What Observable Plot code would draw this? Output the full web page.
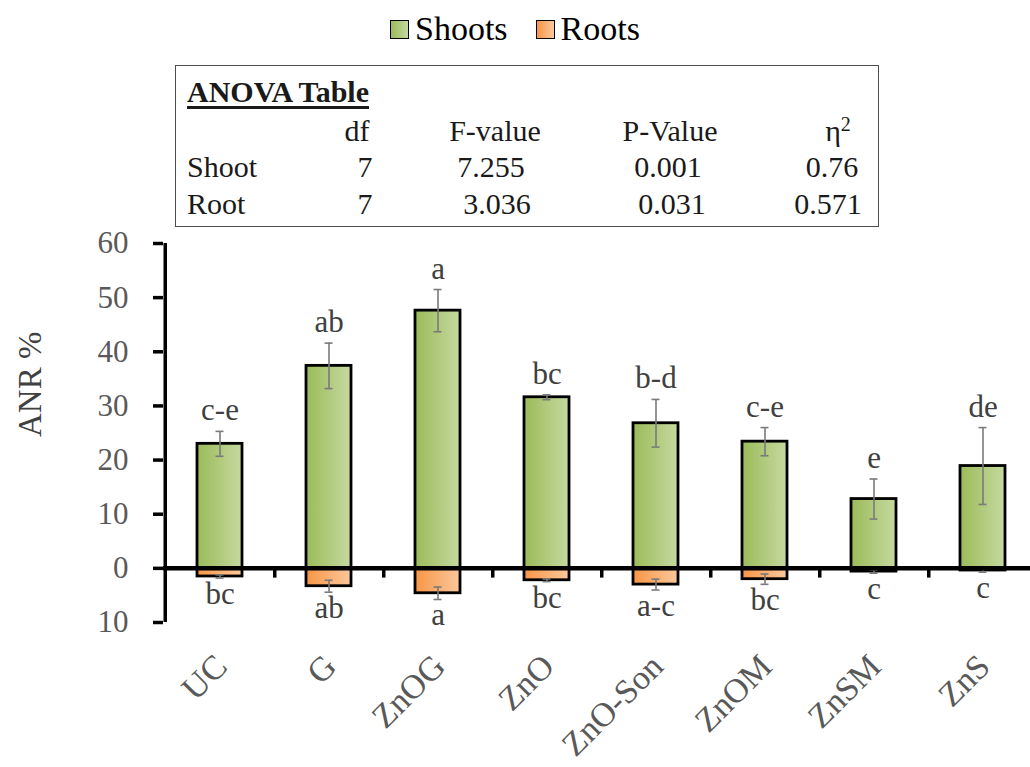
<!DOCTYPE html>
<html>
<head>
<meta charset="utf-8">
<script src="https://cdn.jsdelivr.net/npm/d3@7"></script>
<script src="https://cdn.jsdelivr.net/npm/@observablehq/plot@0.6"></script>
<style>
  html, body { margin: 0; padding: 0; background: #fff; }
  body { width: 1030px; height: 767px; overflow: hidden; font-family: "Liberation Serif", "Tinos", "Times New Roman", "DejaVu Serif", serif; }
  #wrap { position: relative; width: 1030px; height: 767px; }
  #legend { position: absolute; top: 12px; left: 0; width: 1030px; display: flex; justify-content: center; align-items: center; font-size: 34px; line-height: 34px; color: #000; }
  #legend .item { display: flex; align-items: center; margin: 0 14px; }
  #legend .sw { width: 17px; height: 17px; border: 1.6px solid #000; margin-right: 6px; }
  #anova { position: absolute; left: 175px; top: 65px; width: 704px; height: 162px; border: 1.2px solid #4d4d4d; box-sizing: border-box; font-size: 30px; color: #1a1a1a; }
  #anova .c { position: absolute; white-space: nowrap; line-height: 30px; transform: translateX(-50%); }
  #anova .l { position: absolute; white-space: nowrap; line-height: 30px; }
  #anova .title { font-weight: bold; text-decoration: underline; text-decoration-thickness: 2.5px; text-underline-offset: 4px; }
  #chart { position: absolute; left: 0; top: 232px; }
</style>
</head>
<body>
<div id="wrap">
  <div id="legend"></div>
  <div id="anova"></div>
  <div id="chart"></div>
</div>
<script>
// Treatments and measured ANR % (means with standard errors)
const treatments = ["UC", "G", "ZnOG", "ZnO", "ZnO-Son", "ZnOM", "ZnSM", "ZnS"];
const shoots   = [23.0, 37.4, 47.6, 31.6, 26.8, 23.4, 12.8, 18.9];
const shootSE  = [2.3, 4.2, 3.9, 0.45, 4.4, 2.6, 3.7, 7.1];
const roots    = [-1.5, -3.3, -4.6, -2.2, -3.0, -2.0, -0.6, -0.4];
const rootSE   = [0.3, 1.1, 1.15, 0.25, 1.0, 0.95, 0.3, 0.3];
const shootLetters = ["c-e", "ab", "a", "bc", "b-d", "c-e", "e", "de"];
const rootLetters  = ["bc", "ab", "a", "bc", "a-c", "bc", "c", "c"];
const yTicks = [-10, 0, 10, 20, 30, 40, 50, 60];
const seriesNames = ["Shoots", "Roots"];

// ANOVA summary
const anovaTitle = "ANOVA Table";
const anovaHeaders = ["df", "F-value", "P-Value", "η"];
const anovaRowNames = ["Shoot", "Root"];
const anovaDf = ["7", "7"];
const anovaF = ["7.255", "3.036"];
const anovaP = ["0.001", "0.031"];
const anovaEta = ["0.76", "0.571"];

const green = ["#9bbb59", "#c6d9a0"];
const orange = ["#f79646", "#fbc89c"];
const serif = "'Liberation Serif', Tinos, 'Times New Roman', 'DejaVu Serif', serif";

// Legend
const legend = document.getElementById("legend");
seriesNames.forEach((name, i) => {
  const c = i === 0 ? green : orange;
  const item = document.createElement("div");
  item.className = "item";
  const sw = document.createElement("div");
  sw.className = "sw";
  sw.style.background = `linear-gradient(to right, ${c[0]}, ${c[1]})`;
  const label = document.createElement("span");
  label.textContent = name;
  item.append(sw, label);
  legend.append(item);
});

// ANOVA table; column centres are page x positions, converted to box coordinates
const anova = document.getElementById("anova");
function cell(text, x, baseline, cls = "c") {
  const d = document.createElement("div");
  d.className = cls;
  d.textContent = text;
  d.style.left = (x - 176) + "px";
  d.style.top = (baseline - 24) + "px";
  anova.append(d);
  return d;
}
const t = cell(anovaTitle, 187, 35, "l");
t.classList.add("title");
const headX = [357, 495, 670, 838];
anovaHeaders.forEach((h, j) => {
  const d = cell(h, headX[j], 74);
  if (j === 3) {
    const s = document.createElement("sup");
    s.textContent = "2";
    s.style.fontSize = "20px";
    s.style.verticalAlign = "10px";
    s.style.lineHeight = "0";
    d.append(s);
  }
});
anovaRowNames.forEach((r, i) => {
  const b = [110, 147][i];
  cell(r, 187, b, "l");
  cell(anovaDf[i], 365, b);
  cell(anovaF[i], [491, 497][i], b);
  cell(anovaP[i], [668, 672][i], b);
  cell(anovaEta[i], [832, 828][i], b);
});

// Chart
const rows = treatments.map((t, i) => ({
  t, shoot: shoots[i], se: shootSE[i], root: roots[i], rse: rootSE[i],
  sl: shootLetters[i], rl: rootLetters[i]
}));
const step = (1039 - 163) / treatments.length;
const err = { stroke: "#7a7a7a", strokeWidth: 1.6 };
const cap = { ...err, insetLeft: 18.5, insetRight: 18.5 };

const svg = Plot.plot({
  width: 1030,
  height: 535,
  marginLeft: 163,
  marginRight: 0,
  marginTop: 11,
  marginBottom: 145,
  style: { fontFamily: serif, background: "transparent", overflow: "visible" },
  x: { domain: treatments, range: [163, 1039], paddingInner: 0.59, paddingOuter: 0.295, axis: null },
  y: { domain: [-10, 60] },
  marks: [
    Plot.barY(rows, { x: "t", y: "shoot", fill: "url(#gradShoot)", stroke: "#000", strokeWidth: 2.8 }),
    Plot.barY(rows, { x: "t", y: "root", fill: "url(#gradRoot)", stroke: "#000", strokeWidth: 2.8 }),
    // error bars
    Plot.ruleX(rows, { x: "t", y1: d => d.shoot - d.se, y2: d => d.shoot + d.se, ...err }),
    Plot.tickY(rows, { x: "t", y: d => d.shoot + d.se, ...cap }),
    Plot.tickY(rows, { x: "t", y: d => d.shoot - d.se, ...cap }),
    Plot.ruleX(rows, { x: "t", y1: d => d.root - d.rse, y2: d => d.root + d.rse, ...err }),
    Plot.tickY(rows, { x: "t", y: d => d.root - d.rse, ...cap }),
    Plot.tickY(rows, { x: "t", y: d => d.root + d.rse, ...cap }),
    // zero line and category dividers
    Plot.ruleY([0], { stroke: "#000", strokeWidth: 4.5 }),
    Plot.ruleX(treatments.slice(0, -1), { x: d => d, dx: step / 2, y1: 0, y2: -1.8, stroke: "#000", strokeWidth: 3.5 }),
    // vertical axis line, ticks and labels
    Plot.ruleX(treatments.slice(0, 1), { x: d => d, dx: -step / 2, y1: -10, y2: 60, stroke: "#000", strokeWidth: 3.5 }),
    Plot.axisY(yTicks, {
      tickSize: 10, tickPadding: 25, tickFormat: d => String(Math.abs(d)),
      stroke: "#000", strokeWidth: 3.5, fill: "#595959", fontSize: 31, label: null
    }),
    Plot.text(["ANR %"], { frameAnchor: "left", dx: -133, dy: 4, rotate: -90, fontSize: 33, fill: "#404040" }),
    // significance letters
    Plot.text(rows, { x: "t", y: d => d.shoot + d.se, text: "sl", dy: -11, lineAnchor: "bottom", fontSize: 31, fill: "#404040" }),
    Plot.text(rows, { x: "t", y: d => d.root - d.rse, text: "rl", dy: 26, lineAnchor: "bottom", fontSize: 31, fill: "#404040" }),
    // treatment labels
    Plot.text(treatments, { x: d => d, frameAnchor: "bottom", rotate: -45, textAnchor: "end", lineAnchor: "bottom", dx: 9, dy: 46, fontSize: 34, fill: "#595959" })
  ]
});

const defs = d3.select(svg).insert("defs", ":first-child");
[["gradShoot", green], ["gradRoot", orange]].forEach(([id, c]) => {
  const g = defs.append("linearGradient").attr("id", id).attr("x1", "0").attr("x2", "1").attr("y1", "0").attr("y2", "0");
  g.append("stop").attr("offset", "0").attr("stop-color", c[0]);
  g.append("stop").attr("offset", "1").attr("stop-color", c[1]);
});

document.getElementById("chart").append(svg);
</script>
</body>
</html>
